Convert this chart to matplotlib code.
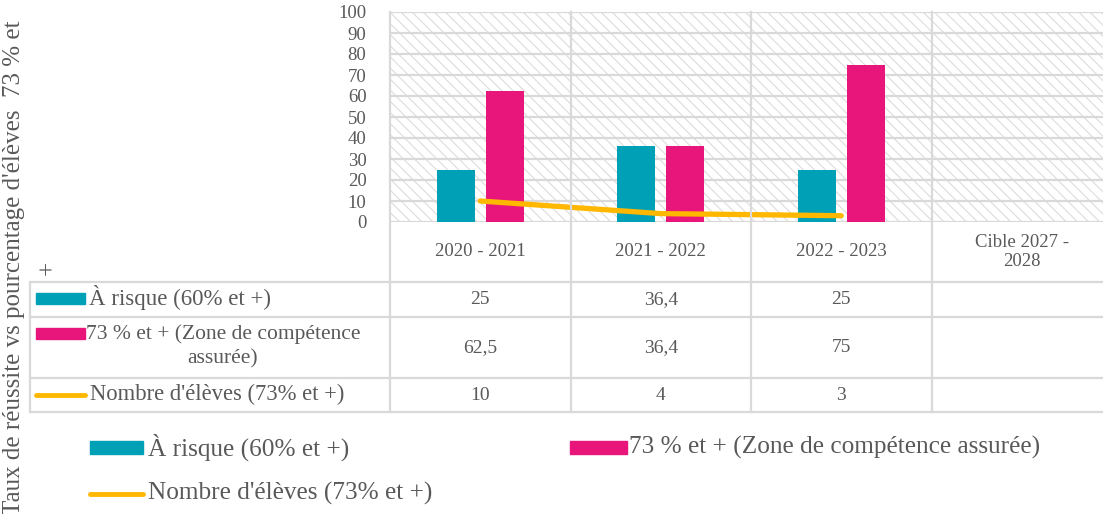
import numpy as np
import matplotlib
matplotlib.use("Agg")
import matplotlib.pyplot as plt
from matplotlib.patches import Rectangle

plt.rcParams['font.family'] = ['Liberation Serif', 'DejaVu Serif']
plt.rcParams['hatch.linewidth'] = 0.8

# data
categories = ['2020 - 2021', '2021 - 2022', '2022 - 2023', 'Cible 2027 -\n2028']
a_risque = [25, 36.4, 25, None]
zone_73 = [62.5, 36.4, 75, None]
nb_eleves = [10, 4, 3, None]
labels_table = ['À risque (60% et +)', '73 % et + (Zone de compétence\nassurée)', "Nombre d'élèves (73% et +)"]
labels_legend = ['À risque (60% et +)', '73 % et + (Zone de compétence assurée)', "Nombre d'élèves (73% et +)"]
y_title = "Taux de réussite vs pourcentage d'élèves  73 % et\n+"

TEAL = '#00A1B7'
PINK = '#E8167B'
GOLD = '#FFB700'
GRID = '#D9D9D9'
TXT = '#595959'

W, H = 1103, 514
fig = plt.figure(figsize=(W / 100, H / 100), dpi=100)

# pixel layout
X0, COLW = 390, 180.5
Y_TOP, Y_ZERO = 12, 222
rows = [222, 282, 317, 378, 412]

ax = fig.add_axes([X0 / W, 1 - Y_ZERO / H, 4 * COLW / W, (Y_ZERO - Y_TOP) / H])
ax.set_xlim(-0.5, 3.5)
ax.set_ylim(0, 100)
for s in ax.spines.values():
    s.set_visible(False)
ax.add_patch(Rectangle((0, 0), 1, 1, transform=ax.transAxes, facecolor='white',
                       edgecolor='#DCDCDC', hatch='\\\\\\', lw=0, zorder=0))
ax.set_yticks(range(0, 101, 10))
ax.grid(axis='y', color=GRID, lw=1.6, zorder=1)
ax.set_axisbelow(True)
ax.set_xticks([])
ax.tick_params(axis='y', length=0, pad=17, labelcolor=TXT, labelsize=13.5)

idx = np.arange(len(categories))
have = [i for i in idx if a_risque[i] is not None]
bw, off = 0.21, 0.136
ax.bar([i - off for i in have], [a_risque[i] for i in have], bw, color=TEAL, zorder=3)
ax.bar([i + off for i in have], [zone_73[i] for i in have], bw, color=PINK, zorder=3)
ax.plot(have, [nb_eleves[i] for i in have], color=GOLD, lw=3.8, solid_capstyle='round', zorder=4)

# overlay for the data table
ov = fig.add_axes([0, 0, 1, 1], zorder=5)
ov.set_xlim(0, W)
ov.set_ylim(H, 0)
ov.axis('off')
ov.patch.set_alpha(0)

lk = dict(color=GRID, lw=1.6)
for y in rows[1:]:
    ov.plot([30, W], [y, y], **lk)
ov.plot([30, 30], [rows[1], rows[-1]], **lk)
for k in range(4):
    x = X0 + k * COLW
    ov.plot([x, x], [Y_TOP, rows[-1]], **lk)

row_c = [(rows[i] + rows[i + 1]) / 2 for i in range(4)]
for k, cat in enumerate(categories):
    xc = X0 + (k + 0.5) * COLW
    ov.text(xc, row_c[0], cat, ha='center', va='center', fontsize=13.5, color=TXT, linespacing=1.2)
    for r, series in enumerate([a_risque, zone_73, nb_eleves]):
        v = series[k]
        if v is not None:
            s = ('%g' % v).replace('.', ',')
            ov.text(xc, row_c[r + 1], s, ha='center', va='center', fontsize=14, color=TXT)

# legend keys inside table
ov.add_patch(Rectangle((36, 293), 49, 11, color=TEAL))
ov.text(89, 298, labels_table[0], ha='left', va='center', fontsize=16.5, color=TXT)
ov.add_patch(Rectangle((36, 328), 49, 11, color=PINK))
ov.text(223, 346, labels_table[1], ha='center', va='center', fontsize=15.5, color=TXT,
        multialignment='center', linespacing=1.35)
ov.plot([36, 85], [395, 395], color=GOLD, lw=3.5, solid_capstyle='round')
ov.text(90, 394, labels_table[2], ha='left', va='center', fontsize=16.3, color=TXT)

# bottom legend
ov.add_patch(Rectangle((90, 441), 53, 13, color=TEAL))
ov.text(148, 447, labels_legend[0], ha='left', va='center', fontsize=18.2, color=TXT)
ov.add_patch(Rectangle((570, 441), 57, 13, color=PINK))
ov.text(629, 447, labels_legend[1], ha='left', va='center', fontsize=18.2, color=TXT)
ov.plot([90, 143], [494, 494], color=GOLD, lw=3.5, solid_capstyle='round')
ov.text(148, 493, labels_legend[2], ha='left', va='center', fontsize=18.2, color=TXT)

# y title
ov.text(31, 268, y_title, rotation=90, ha='center', va='center', fontsize=18, color=TXT,
        multialignment='center', linespacing=1.75)

fig.savefig('out.png', dpi=100)
